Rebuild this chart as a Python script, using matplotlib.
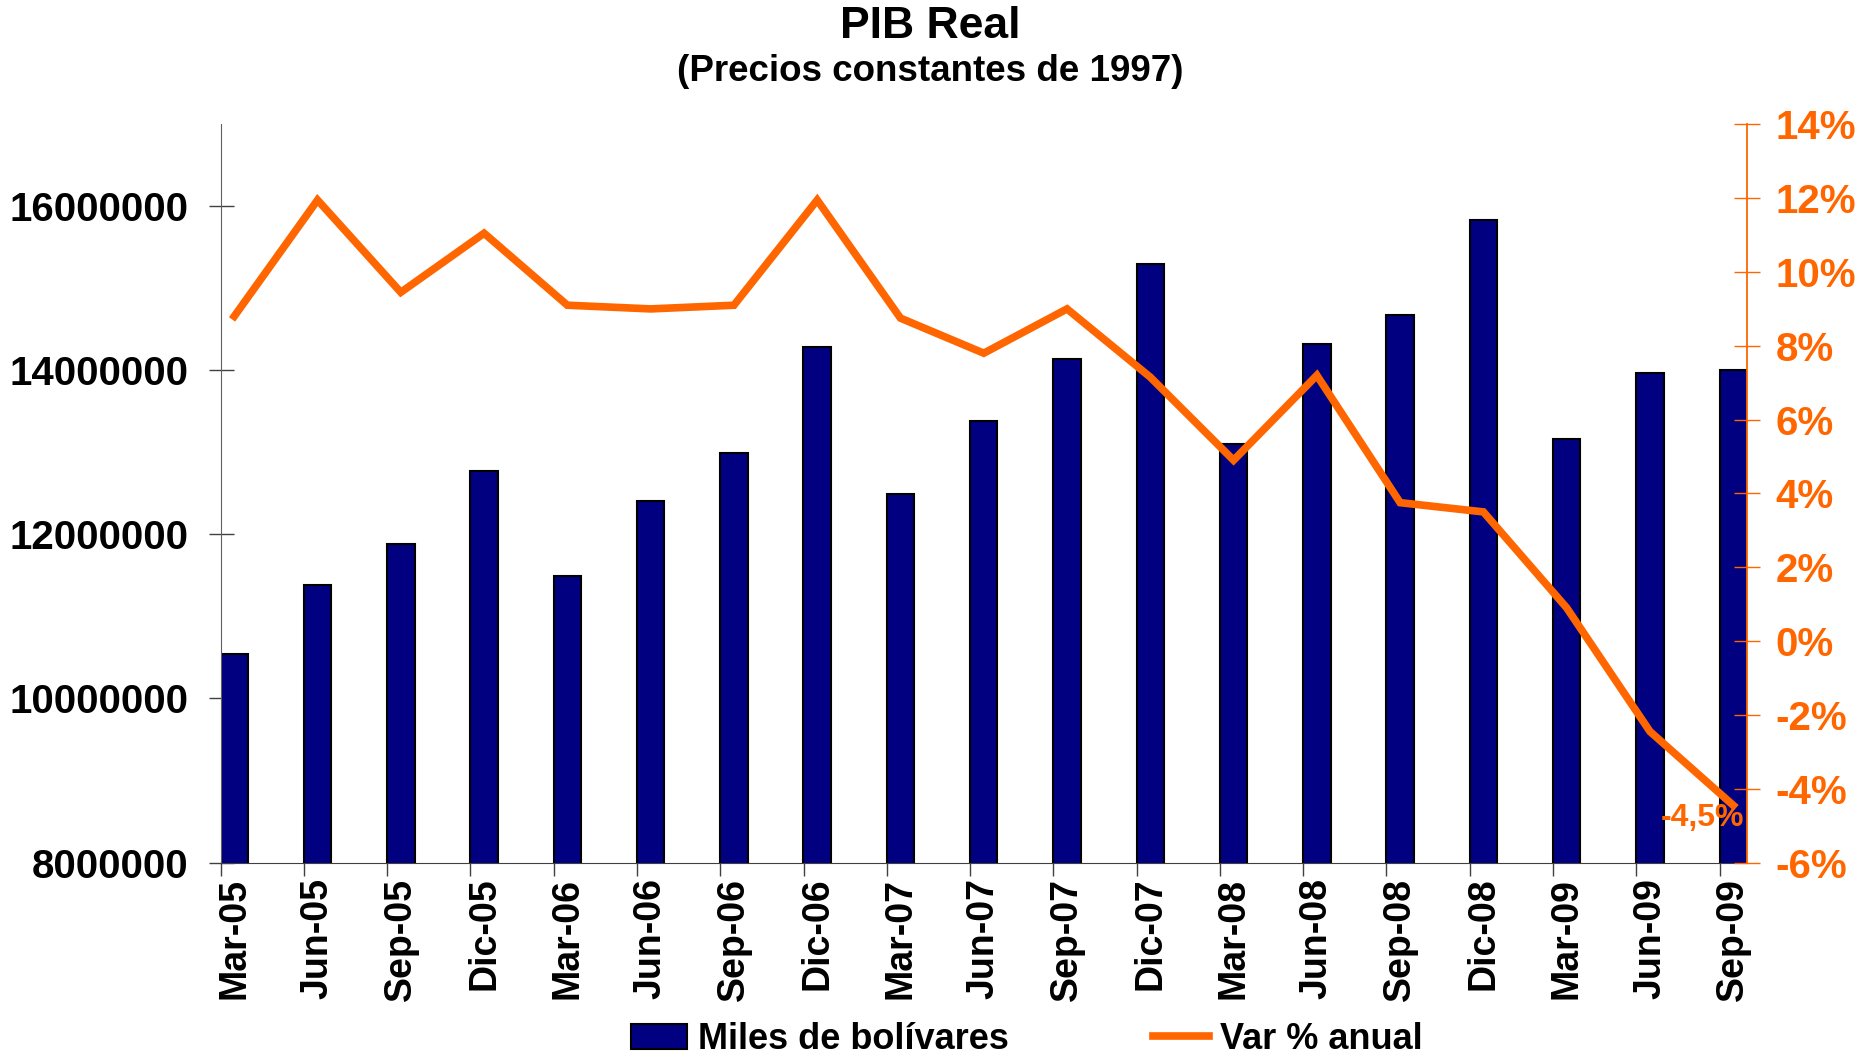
import matplotlib
matplotlib.use("Agg")
import matplotlib.pyplot as plt
from matplotlib.ticker import FuncFormatter, FixedLocator
from matplotlib.patches import Patch
from matplotlib.lines import Line2D

plt.rcParams['font.family'] = ['Liberation Sans', 'DejaVu Sans']
plt.rcParams['font.weight'] = 'bold'

# data
trimestres = ['Mar-05', 'Jun-05', 'Sep-05', 'Dic-05', 'Mar-06', 'Jun-06', 'Sep-06',
              'Dic-06', 'Mar-07', 'Jun-07', 'Sep-07', 'Dic-07', 'Mar-08', 'Jun-08',
              'Sep-08', 'Dic-08', 'Mar-09', 'Jun-09', 'Sep-09']
pib = [10540000, 11380000, 11880000, 12770000, 11490000, 12410000, 12990000,
       14280000, 12490000, 13380000, 14140000, 15300000, 13100000, 14320000,
       14680000, 15840000, 13160000, 13970000, 14010000]
var_anual = [8.8, 11.95, 9.45, 11.05, 9.1, 9.0, 9.1,
             11.95, 8.75, 7.8, 9.0, 7.15, 4.9, 7.2,
             3.75, 3.5, 0.9, -2.45, -4.45]
left_ticks = [8000000, 10000000, 12000000, 14000000, 16000000]
right_ticks = [-6, -4, -2, 0, 2, 4, 6, 8, 10, 12, 14]

navy = '#000080'
orange = '#FF6600'
fs = 27

fig = plt.figure(figsize=(18.6, 10.63), dpi=100)
ax = fig.add_axes([0.1186, 0.1886, 0.8206, 0.6944])
ax2 = ax.twinx()

x = list(range(len(trimestres)))
off = 0.164
ax.bar(x, pib, width=0.33, color=navy, edgecolor='black', linewidth=1.5, zorder=2)
ax2.plot(x, var_anual, color=orange, linewidth=5.5, solid_joinstyle='miter', zorder=3)

ax.set_xlim(-off, len(x) - 1 + off)
ax.set_ylim(8000000, 17000000)
ax2.set_ylim(-6, 14)

# category labels at bar centres, tick marks at bar left edges
ax.set_xticks(x)
ax.set_xticklabels(trimestres, rotation=90, fontsize=fs, fontweight='bold')
ax.tick_params(axis='x', which='major', length=0, pad=11)
ax.xaxis.set_minor_locator(FixedLocator([i - off for i in x]))
ax.tick_params(axis='x', which='minor', length=9, width=1, color='#404040', direction='out')

ax.set_yticks(left_ticks)
ax.yaxis.set_major_formatter(FuncFormatter(lambda v, p: '%d' % v))
ax.tick_params(axis='y', direction='inout', length=18, width=1, color='#404040',
               labelsize=29, pad=14)
for t in ax.get_yticklabels():
    t.set_fontweight('bold')

ax2.set_yticks(right_ticks)
ax2.yaxis.set_major_formatter(FuncFormatter(lambda v, p: '%d%%' % v))
ax2.tick_params(axis='y', direction='inout', length=19, width=1, color=orange,
                labelcolor=orange, labelsize=29, pad=11)
for t in ax2.get_yticklabels():
    t.set_fontweight('bold')

for a in (ax, ax2):
    a.spines['top'].set_visible(False)
ax.spines['left'].set_color('#606060')
ax.spines['bottom'].set_color('#404040')
ax.spines['right'].set_visible(False)
ax2.spines['left'].set_visible(False)
ax2.spines['bottom'].set_visible(False)
ax2.spines['right'].set_color(orange)
ax2.spines['right'].set_linewidth(1.3)

ax2.annotate('-4,5%', xy=(x[-1], var_anual[-1]), xytext=(8, -9),
             textcoords='offset points', ha='right', va='center',
             color=orange, fontsize=23, fontweight='bold')

fig.text(0.5, 0.975, 'PIB Real', ha='center', va='center', fontsize=32, fontweight='bold')
fig.text(0.5, 0.933, '(Precios constantes de 1997)', ha='center', va='center',
         fontsize=26.5, fontweight='bold')

handles = [Patch(facecolor=navy, edgecolor='black', linewidth=1.5),
           Line2D([0], [0], color=orange, linewidth=5.5)]
fig.legend(handles, ['Miles de bolívares', 'Var % anual'], loc='center',
           bbox_to_anchor=(0.552, 0.022), ncol=2, frameon=False,
           prop={'size': 26, 'weight': 'bold'}, handlelength=1.55,
           handletextpad=0.3, columnspacing=4.0, borderpad=0.1)

fig.savefig('out.png', dpi=100)
